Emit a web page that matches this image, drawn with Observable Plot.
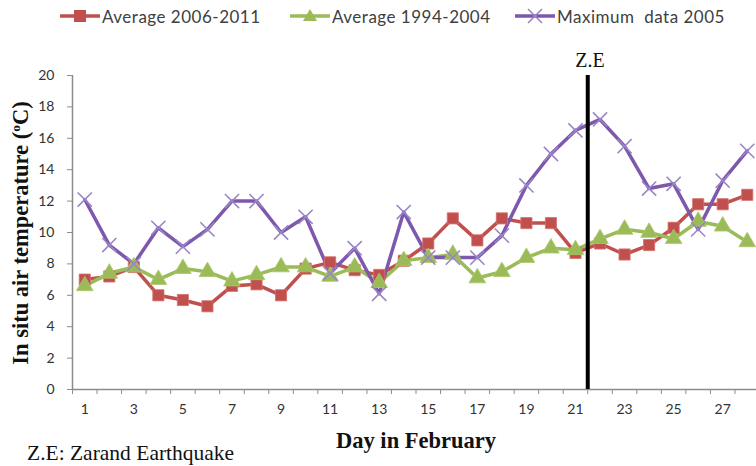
<!DOCTYPE html>
<html>
<head>
<meta charset="utf-8">
<script src="https://cdn.jsdelivr.net/npm/d3@7"></script>
<script src="https://cdn.jsdelivr.net/npm/@observablehq/plot@0.6"></script>
<style>
  html, body { margin: 0; padding: 0; background: #fff; overflow: hidden; }
  #wrap { position: relative; width: 756px; height: 466px; overflow: hidden; }
  #chart { position: absolute; left: 0; top: 0; }
  .legend { position: absolute; top: 6px; height: 20px; display: flex; align-items: center;
            font-family: Lato, sans-serif; font-size: 17px; letter-spacing: 0.5px; color: #404040; white-space: pre; }
  .legend svg { display: block; margin-right: 2px; }
  .serif { position: absolute; font-family: "Liberation Serif", "DejaVu Serif", serif; color: #111; white-space: nowrap; }
</style>
</head>
<body>
<div id="wrap">
  <div id="chart"></div>
</div>
<script>
// ---- data ----
const days = [1,2,3,4,5,6,7,8,9,10,11,12,13,14,15,16,17,18,19,20,21,22,23,24,25,26,27,28];
const avg2006_2011 = [7.0,7.2,7.8,6.0,5.7,5.3,6.6,6.7,6.0,7.7,8.1,7.6,7.3,8.2,9.3,10.9,9.5,10.9,10.6,10.6,8.7,9.3,8.6,9.2,10.3,11.8,11.8,12.4];
const avg1994_2004 = [6.6,7.4,7.8,7.0,7.7,7.5,6.9,7.3,7.8,7.8,7.2,7.8,6.8,8.2,8.4,8.6,7.1,7.5,8.4,9.0,8.9,9.6,10.2,10.0,9.6,10.7,10.4,9.4];
const max2005      = [12.1,9.2,8.0,10.3,9.1,10.2,12.0,12.0,10.0,11.0,7.4,9.0,6.1,11.3,8.4,8.4,8.4,9.8,13.0,15.0,16.5,17.2,15.5,12.8,13.1,10.2,13.3,15.2];
const seriesNames  = ["Average 2006-2011", "Average 1994-2004", "Maximum  data 2005"];
const seriesColors = ["#c0504d", "#9bbb59", "#7d58ad"];
const xTickLabels  = [1,3,5,7,9,11,13,15,17,19,21,23,25,27];
const yTicks       = [0,2,4,6,8,10,12,14,16,18,20];
const quakeDay     = 21.5;
const quakeLabel   = "Z.E";
const xTitle = "Day in February";
const footnote = "Z.E: Zarand Earthquake";

// ---- build ----
const values = [avg2006_2011, avg1994_2004, max2005];
const rows = seriesNames.map((name, s) => days.map((d, i) => ({series: name, day: d, value: values[s][i]})));
const xDomain = [days[0] - 0.5, days[days.length - 1] + 0.5];
const boundaries = days.map(d => d - 0.5).concat([xDomain[1]]);

const tickFont = "Lato, sans-serif";

const lineMarks = rows.map((r, s) => Plot.line(r, {x: "day", y: "value", stroke: seriesColors[s], strokeWidth: 3.5}));
const dotMarks = [
  Plot.dot(rows[0], {x: "day", y: "value", symbol: "square", r: 6.3, fill: seriesColors[0], stroke: "#d9706c", strokeWidth: 0.8}),
  Plot.dot(rows[1], {x: "day", y: "value", symbol: "triangle", r: 6.2, fill: seriesColors[1], stroke: "#a9c86a", strokeWidth: 0.8}),
  Plot.dot(rows[2], {x: "day", y: "value", symbol: "times", r: 6.5, stroke: "#9a86c6", strokeWidth: 1.6})
];

const chart = Plot.plot({
  width: 756,
  height: 466,
  marginTop: 75,
  marginBottom: 77,
  marginLeft: 72,
  marginRight: 0,
  style: {background: "transparent", overflow: "visible"},
  x: {domain: xDomain, range: [72, 759], axis: null},
  y: {domain: [0, 20], axis: null},
  marks: [
    Plot.axisY(yTicks, {anchor: "left", tickSize: 5, tickPadding: 13, fontSize: 14, fontFamily: tickFont, stroke: "#8c8c8c", fill: "#333", label: null}),
    Plot.axisX(boundaries, {anchor: "bottom", tickSize: 5, tickFormat: () => "", stroke: "#8c8c8c", label: null}),
    Plot.axisX(xTickLabels, {anchor: "bottom", tickSize: 0, tickPadding: 15, fontSize: 14, fontFamily: tickFont, fill: "#333", label: null}),
    Plot.ruleX([xDomain[0]], {stroke: "#8c8c8c", strokeWidth: 1.5}),
    Plot.ruleY([0], {stroke: "#8c8c8c", strokeWidth: 1.5}),
    ...lineMarks,
    ...dotMarks,
    Plot.ruleX([quakeDay], {stroke: "#000", strokeWidth: 4})
  ]
});
document.getElementById("chart").appendChild(chart);

// ---- legend & texts (HTML) ----
const wrap = document.getElementById("wrap");
const legendLefts = [60, 290, 515];
const swatchSymbols = [
  c => `<rect x="14" y="4" width="12" height="12" fill="${c}"/>`,
  c => `<path d="M20 3 L27 15 L13 15 Z" fill="${c}"/>`,
  c => `<path d="M13 3 L27 17 M27 3 L13 17" stroke="#9a86c6" stroke-width="1.6"/>`
];
seriesNames.forEach((name, s) => {
  const div = document.createElement("div");
  div.className = "legend";
  div.style.left = legendLefts[s] + "px";
  div.innerHTML = `<svg width="40" height="20"><line x1="0" y1="10" x2="40" y2="10" stroke="${seriesColors[s]}" stroke-width="3.5"/>${swatchSymbols[s](seriesColors[s])}</svg><span>${name}</span>`;
  wrap.appendChild(div);
});

function addText(html, css) {
  const d = document.createElement("div");
  d.className = "serif";
  d.innerHTML = html;
  Object.assign(d.style, css);
  wrap.appendChild(d);
  return d;
}
// y title (rotated)
addText("In situ air temperature (<sup style='font-size:0.6em;vertical-align:0.6em'>o</sup>C)", {
  left: "21px", top: "233px", fontWeight: "bold", fontSize: "22.5px",
  transform: "translate(-50%, -50%) rotate(-90deg)"
});
// x title
addText(xTitle, {left: "416px", top: "441px", fontWeight: "bold", fontSize: "22.5px", transform: "translate(-50%, -50%)"});
// footnote
addText(footnote, {left: "27px", top: "453px", fontSize: "21.5px", transform: "translate(0, -50%)"});
// quake label
addText(quakeLabel, {left: "590px", top: "60px", fontSize: "20px", transform: "translate(-50%, -50%)"});
</script>
</body>
</html>
